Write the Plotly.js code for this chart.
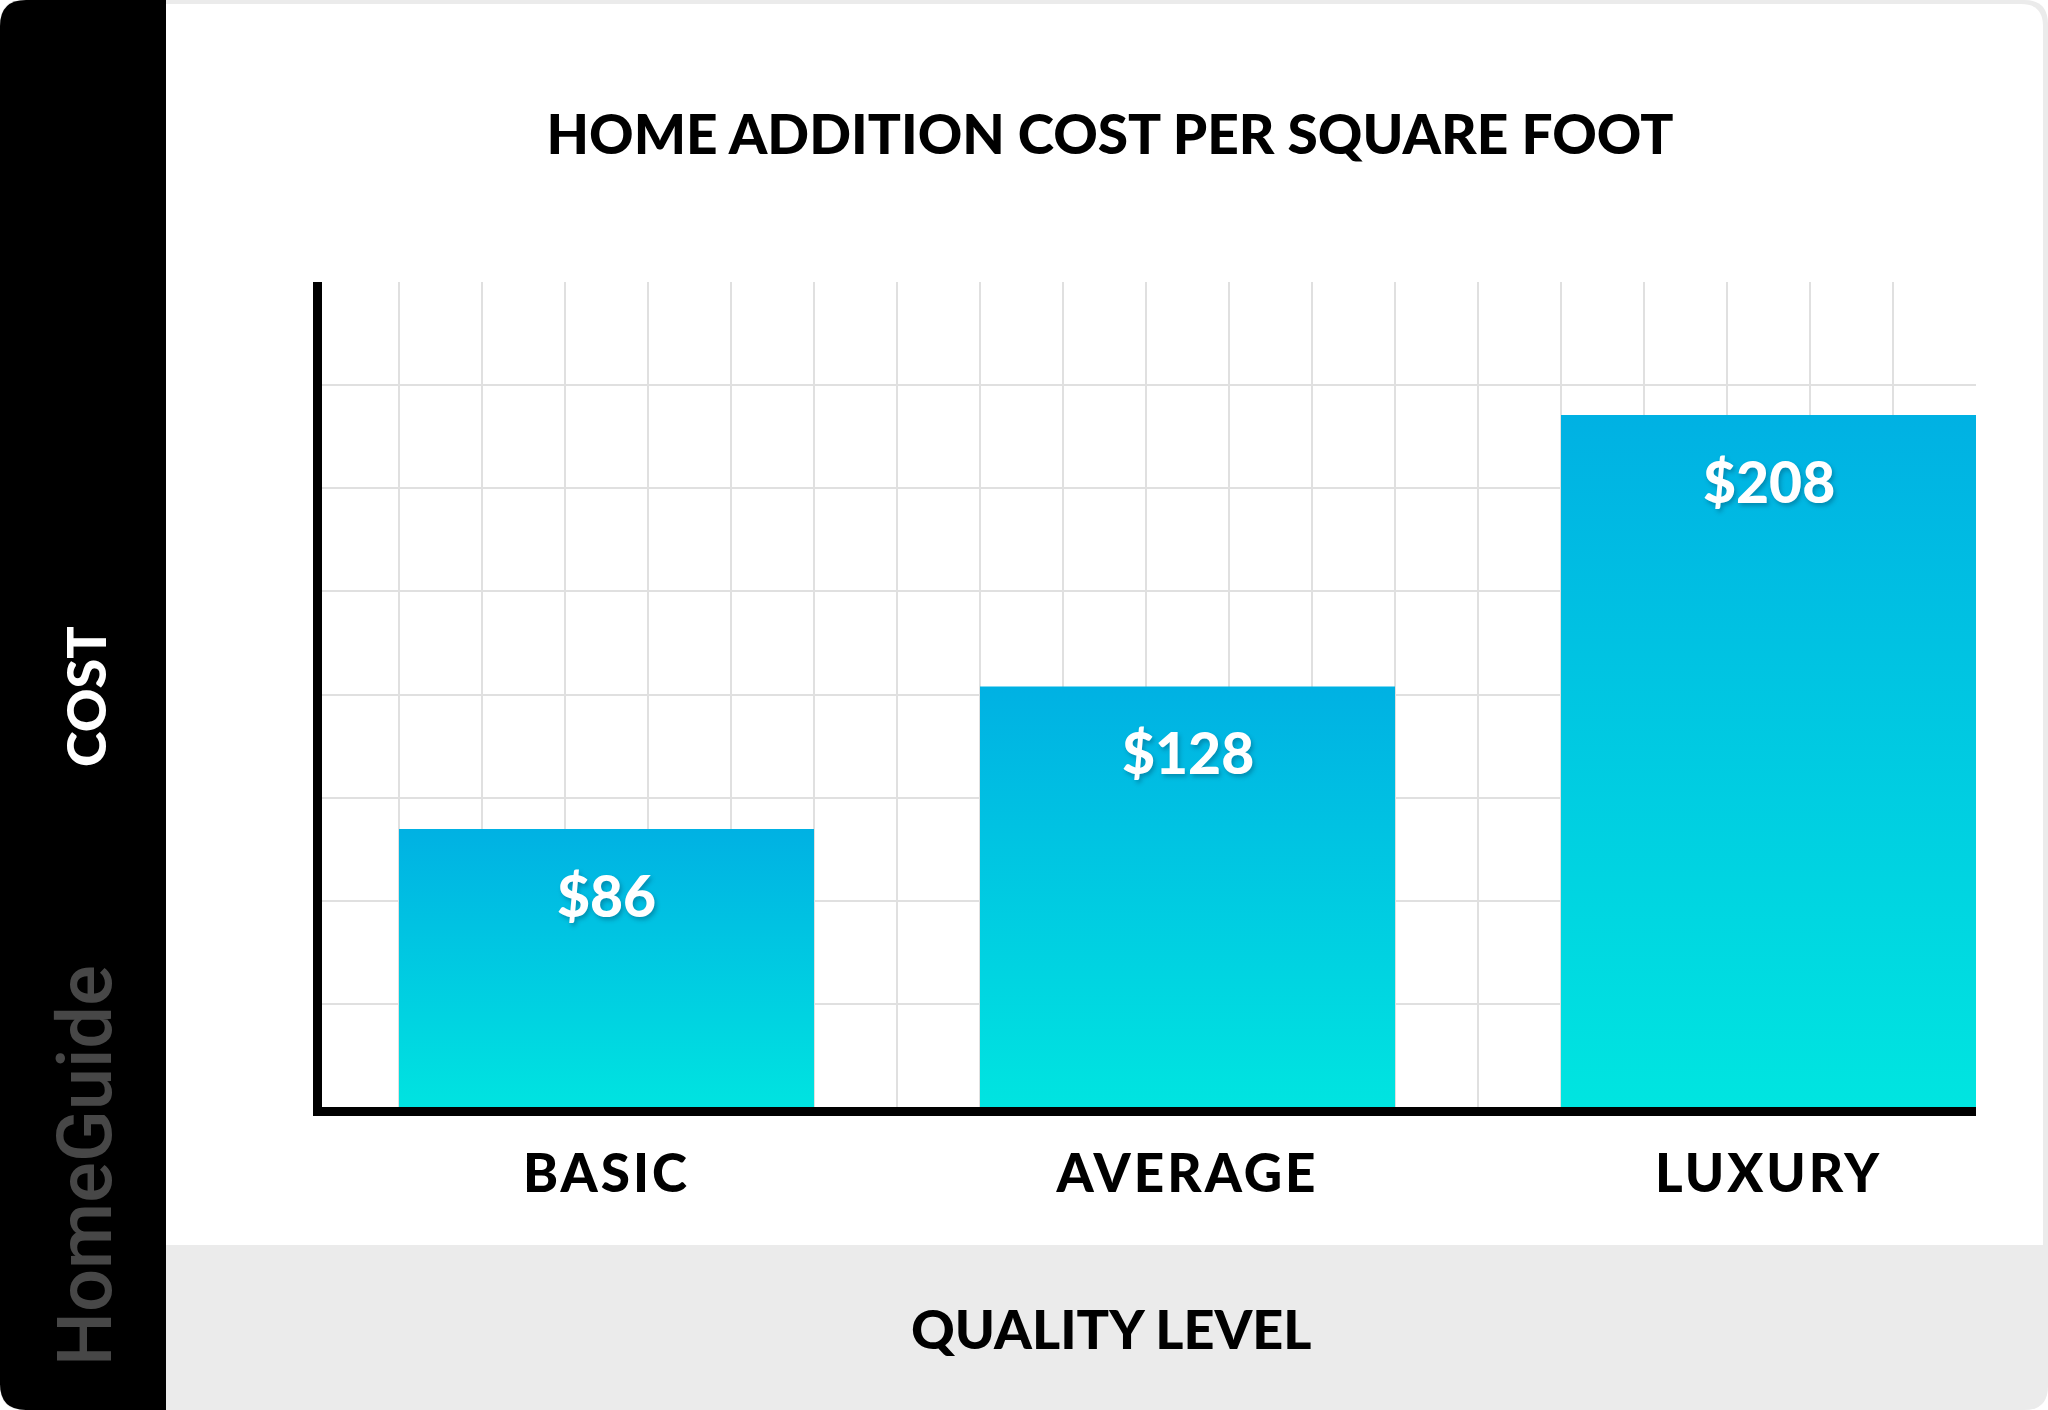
<!DOCTYPE html>
<html>
<head>
<meta charset="utf-8">
<script src="https://cdn.plot.ly/plotly-3.0.1.min.js"></script>
<style>
  html, body { margin: 0; padding: 0; background: #ffffff; }
  #chart { width: 2048px; height: 1410px; }
  #chart .xtick text { letter-spacing: 3px; }
</style>
</head>
<body>
<div id="chart"></div>
<script>
// ---- data ----
const categories = ['BASIC', 'AVERAGE', 'LUXURY'];
const costs = [86, 128, 208];
const costLabels = ['$86', '$128', '$208'];
const chartTitle = 'HOME ADDITION COST PER SQUARE FOOT';
const yTitle = 'COST';
const xTitle = 'QUALITY LEVEL';
const brand = 'HomeGuide';

// ---- layout geometry (pixels) ----
const FW = 2048, FH = 1410;
const L = 322, R = 1976, T = 282, B = 1107;
const GRID_LEFT = 316, GRID_STEP = (R - GRID_LEFT) / 20;
const PW = R - L, PH = B - T;
const px = x => (x - L) / PW;
const py = y => (B - y) / PH;
const gridStart = (L - GRID_LEFT) / GRID_STEP;          // grid units at plot left edge
const catStart = (gridStart - 3.5) / 7;                  // category units at plot left edge

function roundRect(x0, y0, x1, y1, rtl, rtr, rbr, rbl) {
  const P = (x, y) => px(x).toFixed(6) + ',' + py(y).toFixed(6);
  let d = 'M' + P(x0 + rtl, y0);
  d += ' L' + P(x1 - rtr, y0);
  if (rtr) d += ' Q' + P(x1, y0) + ' ' + P(x1, y0 + rtr);
  d += ' L' + P(x1, y1 - rbr);
  if (rbr) d += ' Q' + P(x1, y1) + ' ' + P(x1 - rbr, y1);
  d += ' L' + P(x0 + rbl, y1);
  if (rbl) d += ' Q' + P(x0, y1) + ' ' + P(x0, y1 - rbl);
  d += ' L' + P(x0, y0 + rtl);
  if (rtl) d += ' Q' + P(x0, y0) + ' ' + P(x0 + rtl, y0);
  return d + ' Z';
}

const headFont = { family: 'Lato, "DejaVu Sans", sans-serif', weight: 900, color: '#000000' };

const barTrace = {
  type: 'bar',
  x: categories,
  y: costs,
  width: 5 / 7,
  marker: { color: '#00C8E2', line: { width: 0 } },
  hoverinfo: 'skip',
  showlegend: false
};
const gridTrace = {
  type: 'scatter', x: [], y: [], xaxis: 'x2', yaxis: 'y',
  hoverinfo: 'skip', showlegend: false
};

const valueAnnotations = categories.map((c, i) => ({
  x: c, y: costs[i], xref: 'x', yref: 'y',
  text: costLabels[i], showarrow: false,
  yanchor: 'middle', yshift: -66,
  font: Object.assign({}, headFont, { size: 57, color: '#ffffff', shadow: '2px 3px 4px rgba(0,60,90,0.35)' })
}));

const layout = {
  width: FW, height: FH,
  margin: { l: L, r: FW - R, t: T, b: FH - B, pad: 0 },
  paper_bgcolor: '#ffffff',
  plot_bgcolor: 'rgba(0,0,0,0)',
  showlegend: false,
  title: {
    text: chartTitle,
    font: Object.assign({}, headFont, { size: 55 }),
    x: 1110 / FW, xref: 'container', xanchor: 'center',
    y: 1 - 135 / FH, yref: 'container', yanchor: 'middle'
  },
  xaxis: {
    type: 'category',
    range: [catStart, 16.5 / 7],
    showgrid: false, zeroline: false,
    showline: true, linecolor: '#000000', linewidth: 9,
    ticks: '', ticklabelstandoff: 12,
    tickfont: Object.assign({}, headFont, { size: 53 }),
    fixedrange: true
  },
  xaxis2: {
    overlaying: 'x', anchor: 'y', side: 'bottom',
    range: [gridStart, 20], tick0: 0, dtick: 1,
    showgrid: true, gridcolor: '#e0e0e0', gridwidth: 2,
    showticklabels: false, ticks: '', showline: false, zeroline: false,
    fixedrange: true
  },
  yaxis: {
    range: [4.07, 247.2], tick0: 4.07, dtick: 30.39,
    showgrid: true, gridcolor: '#e0e0e0', gridwidth: 2,
    showticklabels: false, ticks: '', zeroline: false,
    showline: true, linecolor: '#000000', linewidth: 9,
    fixedrange: true
  },
  shapes: [
    { type: 'path', xref: 'paper', yref: 'paper', layer: 'below',
      path: roundRect(0, 0, FW, FH, 24, 24, 24, 24), fillcolor: '#ebebeb', line: { width: 0 } },
    { type: 'path', xref: 'paper', yref: 'paper', layer: 'below',
      path: roundRect(166, 4, 2043, 1245, 0, 22, 0, 0), fillcolor: '#ffffff', line: { width: 0 } },
    { type: 'path', xref: 'paper', yref: 'paper', layer: 'below',
      path: roundRect(0, 0, 166, FH, 26, 0, 0, 26), fillcolor: '#000000', line: { width: 0 } }
  ],
  annotations: valueAnnotations.concat([
    { xref: 'paper', yref: 'paper', x: px(85), y: py(697), text: yTitle, textangle: -90,
      showarrow: false, xanchor: 'center', yanchor: 'middle',
      font: Object.assign({}, headFont, { size: 54, color: '#ffffff' }) },
    { xref: 'paper', yref: 'paper', x: px(1111), y: py(1328), text: xTitle,
      showarrow: false, xanchor: 'center', yanchor: 'middle',
      font: Object.assign({}, headFont, { size: 54 }) },
    { xref: 'paper', yref: 'paper', x: px(85), y: py(1166), text: brand, textangle: -90,
      showarrow: false, xanchor: 'center', yanchor: 'middle',
      font: { family: 'Roboto, sans-serif', weight: 500, size: 76, color: '#474747' } }
  ])
};

Plotly.newPlot('chart', [barTrace, gridTrace], layout, { displayModeBar: false, staticPlot: true })
  .then(gd => {
    const svg = gd.querySelector('.main-svg');
    const NS = 'http://www.w3.org/2000/svg';
    let defs = svg.querySelector('defs');
    if (!defs) { defs = document.createElementNS(NS, 'defs'); svg.insertBefore(defs, svg.firstChild); }
    const grad = document.createElementNS(NS, 'linearGradient');
    grad.setAttribute('id', 'barGrad');
    grad.setAttribute('x1', '0'); grad.setAttribute('y1', '0');
    grad.setAttribute('x2', '0'); grad.setAttribute('y2', '1');
    [['0', '#00b1e3'], ['1', '#00e6e0']].forEach(([o, c]) => {
      const s = document.createElementNS(NS, 'stop');
      s.setAttribute('offset', o); s.setAttribute('stop-color', c);
      grad.appendChild(s);
    });
    defs.appendChild(grad);
    gd.querySelectorAll('.trace.bars .point path').forEach(p => { p.style.fill = 'url(#barGrad)'; });
  });
</script>
</body>
</html>
